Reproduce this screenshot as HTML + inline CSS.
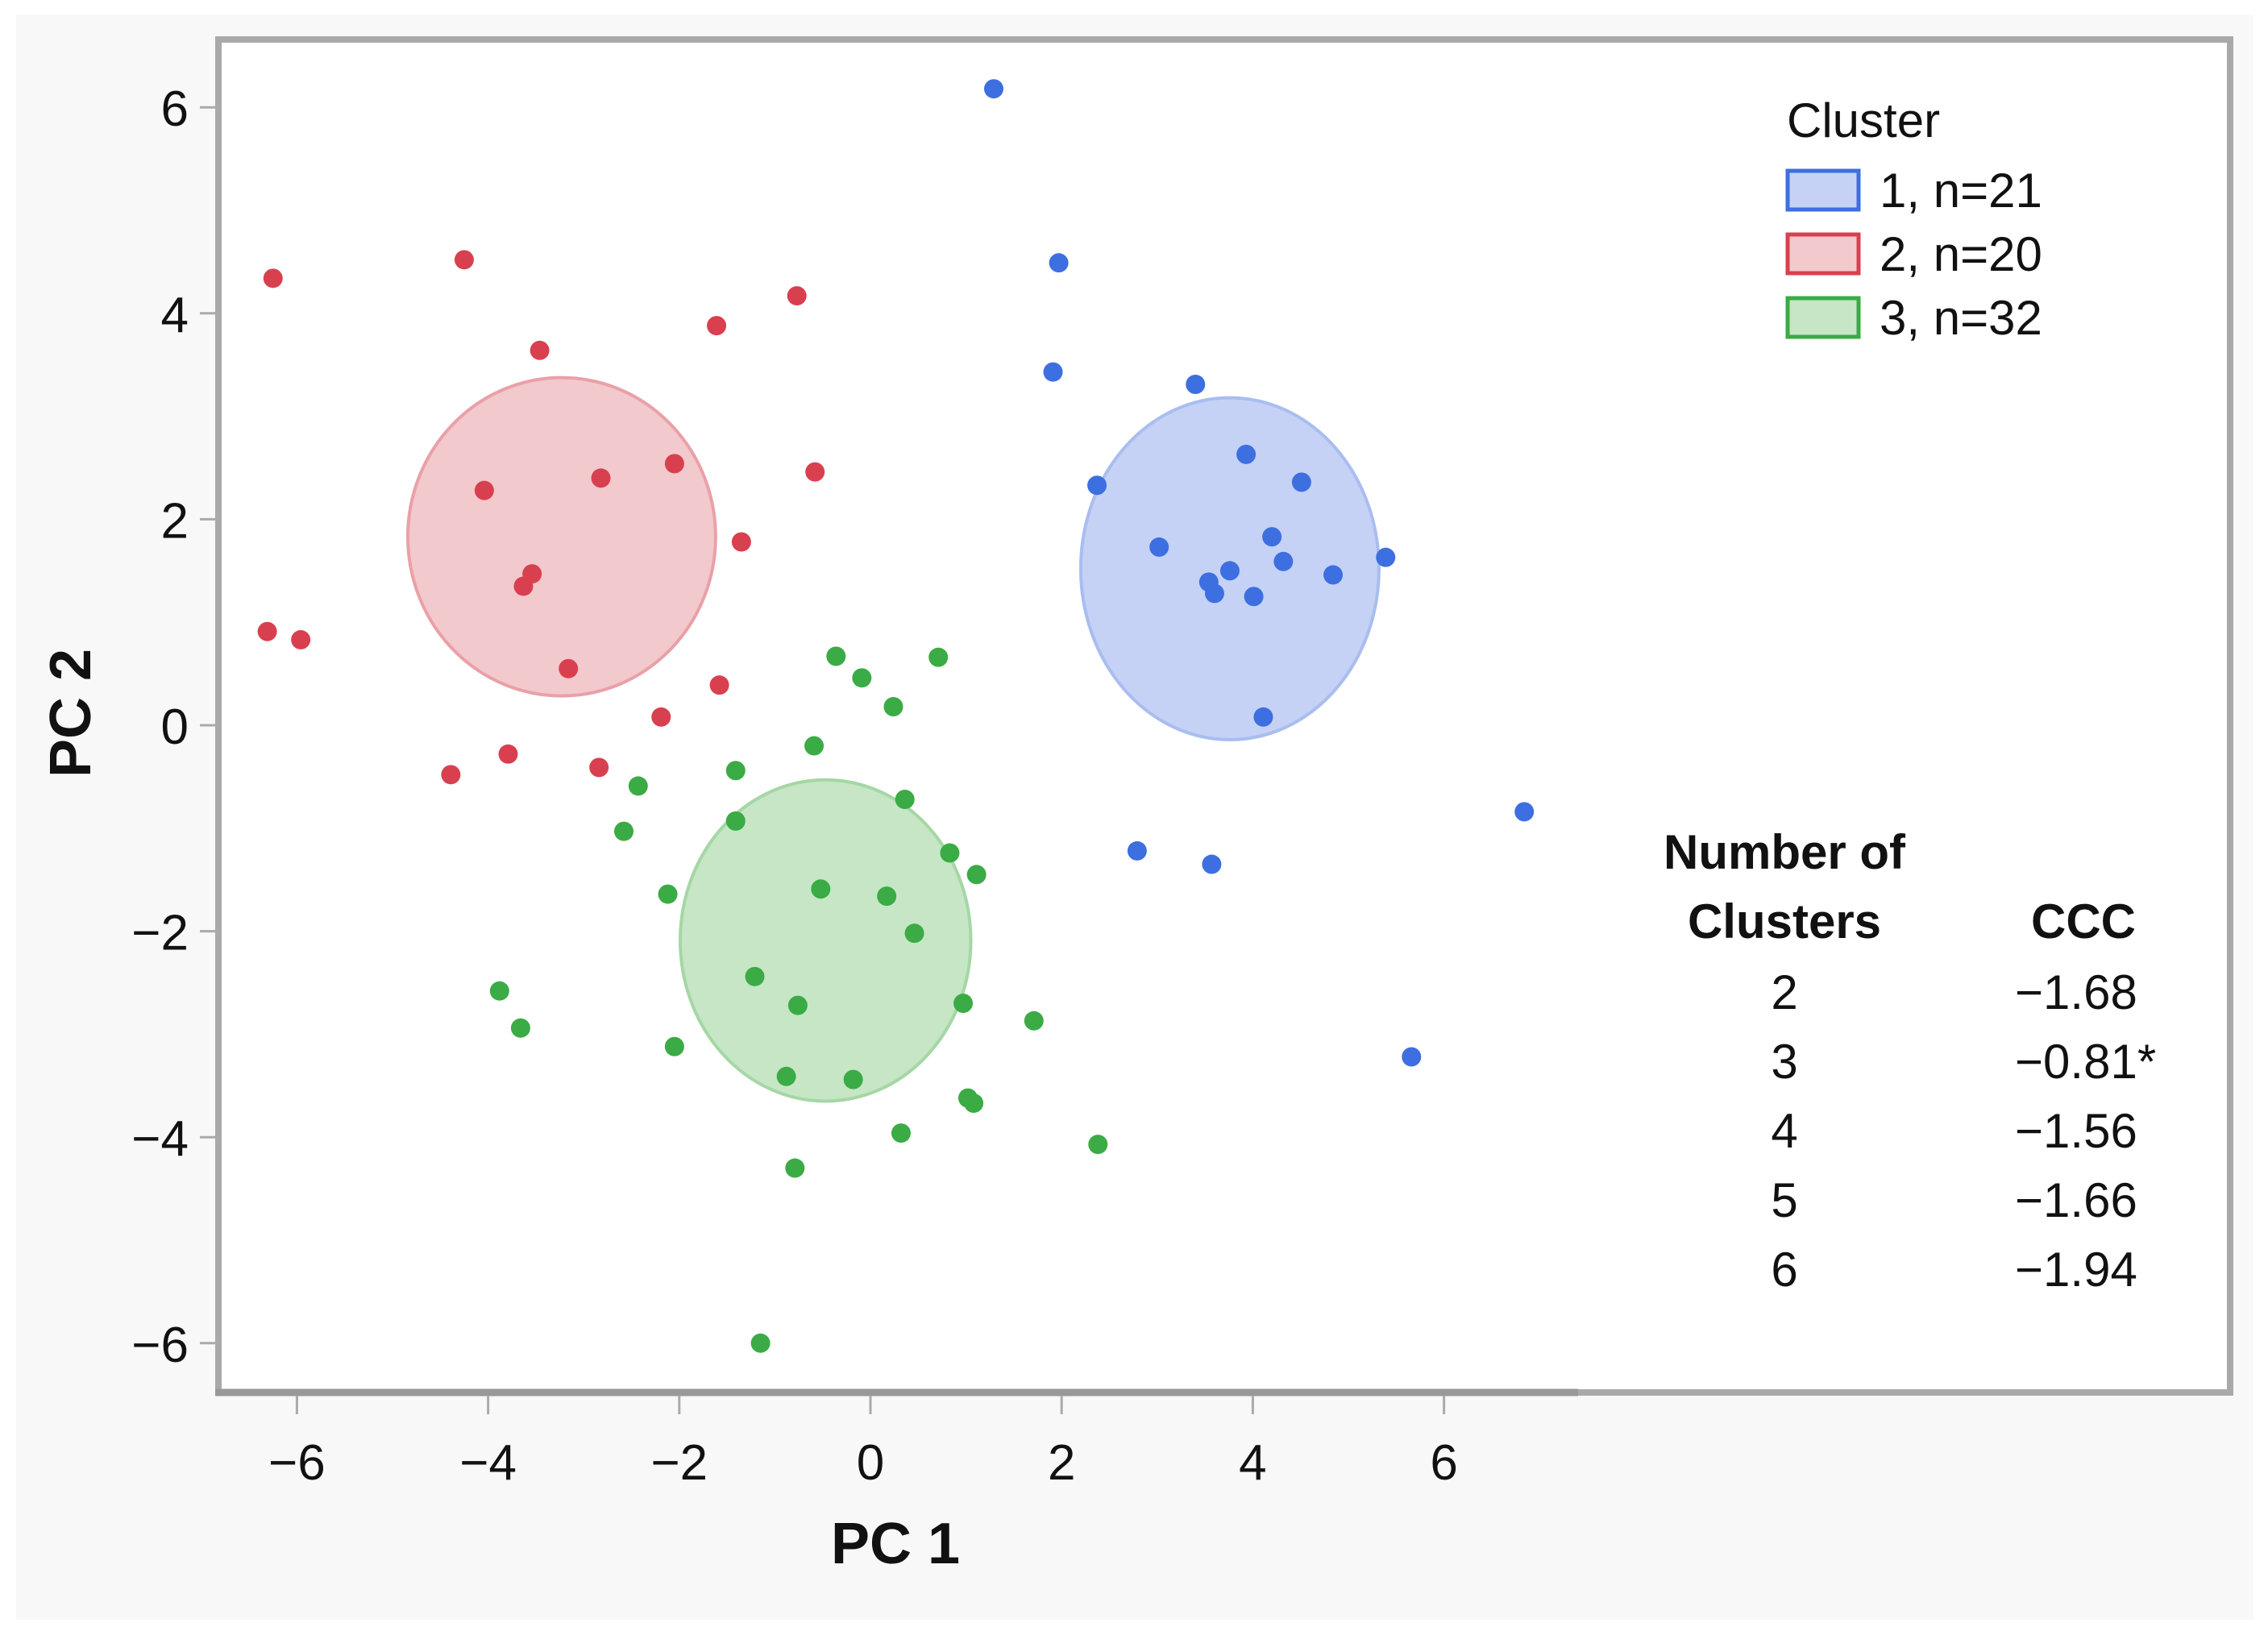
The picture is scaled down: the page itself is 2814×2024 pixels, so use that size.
<!DOCTYPE html>
<html><head><meta charset="utf-8"><style>
html,body{margin:0;padding:0;background:#fff;}
svg{display:block;}
text{font-family:"Liberation Sans",sans-serif;fill:#111;}
</style></head><body>
<svg id="chart" width="2814" height="2024" viewBox="0 0 2814 2024">
<rect x="20" y="18" width="2776" height="1992" fill="#f8f8f8"/>
<rect x="271" y="49" width="2496" height="1679" fill="#fff" stroke="#a9a9a9" stroke-width="8"/>
<line x1="267" y1="1728" x2="1958" y2="1728" stroke="#999" stroke-width="9"/>
<g id="ellipses"></g>
<g id="points"></g>
<g id="axes"></g>
<text x="1111" y="1940" font-size="72" font-weight="bold" text-anchor="middle">PC 1</text>
<text x="0" y="0" font-size="72" font-weight="bold" text-anchor="middle" transform="translate(112,885) rotate(-90)">PC 2</text>
<g>
<text x="2217" y="170" font-size="60">Cluster</text>
<g><rect x="2218" y="212" width="88" height="48" fill="#c5d2f5" stroke="#3d6fe0" stroke-width="5"/><text x="2332" y="257" font-size="60">1, n=21</text></g>
<g><rect x="2218" y="291" width="88" height="48" fill="#f2c9cc" stroke="#d9404f" stroke-width="5"/><text x="2332" y="336" font-size="60">2, n=20</text></g>
<g><rect x="2218" y="370" width="88" height="48" fill="#c6e6c6" stroke="#3bab45" stroke-width="5"/><text x="2332" y="415" font-size="60">3, n=32</text></g>
</g>
<g>
<text x="2214" y="1078" font-size="60" font-weight="bold" text-anchor="middle">Number of</text>
<text x="2214" y="1164" font-size="60" font-weight="bold" text-anchor="middle">Clusters</text>
<text x="2585" y="1164" font-size="60" font-weight="bold" text-anchor="middle">CCC</text>
<g id="tablerows"></g>
</g>
</svg>
<script>
const blueX=[1.29,1.97,1.91,3.40,2.37,3.93,4.51,3.02,4.20,3.76,3.54,3.60,4.01,4.32,4.84,5.39,4.11,6.84,2.79,3.57,5.66];
const blueY=[6.18,4.49,3.43,3.31,2.33,2.63,2.36,1.73,1.83,1.50,1.39,1.28,1.25,1.59,1.46,1.63,0.08,-0.84,-1.22,-1.35,-3.22];
const redX=[-6.25,-4.25,-0.77,-1.61,-3.46,-4.04,-2.82,-2.05,-0.58,-1.35,-3.54,-3.63,-6.31,-5.96,-3.16,-1.58,-2.19,-4.39,-3.79,-2.84];
const redY=[4.34,4.52,4.17,3.88,3.64,2.28,2.40,2.54,2.46,1.78,1.47,1.35,0.91,0.83,0.55,0.39,0.08,-0.48,-0.28,-0.41];
const greenX=[-0.36,-0.09,0.71,0.24,-0.59,-1.41,-2.43,-2.58,-1.41,0.36,0.83,1.11,-2.12,-0.52,0.17,0.46,-1.21,-0.76,0.97,1.71,-3.88,-3.66,-2.05,-0.88,-0.18,1.02,1.08,0.32,2.38,-0.79,-1.15];
const greenY=[0.67,0.46,0.66,0.18,-0.20,-0.44,-0.59,-1.03,-0.93,-0.72,-1.24,-1.45,-1.64,-1.59,-1.66,-2.02,-2.44,-2.72,-2.70,-2.87,-2.58,-2.94,-3.12,-3.41,-3.44,-3.62,-3.67,-3.96,-4.07,-4.30,-6.00];
const ellipseCX=[3.76,-3.23,-0.47];
const ellipseCY=[1.52,1.83,-2.09];
const ellipseRX=[1.56,1.61,1.52];
const ellipseRY=[1.66,1.545,1.56];
const xTicks=[-6,-4,-2,0,2,4,6];
const yTicks=[-6,-4,-2,0,2,4,6];
const tableK=["2","3","4","5","6"];
const tableCCC=["\u22121.68","\u22120.81*","\u22121.56","\u22121.66","\u22121.94"];

const NS="http://www.w3.org/2000/svg";
function sx(v){return 1080+118.6*v;}
function sy(v){return 900-127.8*v;}
function mk(tag,attrs,parent){const e=document.createElementNS(NS,tag);for(const k in attrs)e.setAttribute(k,attrs[k]);parent.appendChild(e);return e;}
const eg=document.getElementById('ellipses');
const fills=['#c5d2f5','#f2c9cc','#c6e6c6'];
const strokes=['#a9bdf0','#eaa0a8','#a5d7a5'];
const enames=['ellipse-cluster-1','ellipse-cluster-2','ellipse-cluster-3'];
for(let i=0;i<3;i++){
  const e=mk('ellipse',{cx:sx(ellipseCX[i]),cy:sy(ellipseCY[i]),rx:ellipseRX[i]*118.6,ry:ellipseRY[i]*127.8,fill:fills[i],stroke:strokes[i],'stroke-width':4},eg);
  
  
}
const pg=document.getElementById('points');
const series=[[blueX,blueY,'#3d6fe0','point-cluster-1'],[redX,redY,'#d9404f','point-cluster-2'],[greenX,greenY,'#3bab45','point-cluster-3']];
series.forEach(s=>{
  for(let i=0;i<s[0].length;i++){
    const c=mk('circle',{cx:sx(s[0][i]),cy:sy(s[1][i]),r:12,fill:s[2]},pg);
    
    
  }
});
const ag=document.getElementById('axes');
xTicks.forEach(t=>{
  const l=mk('line',{x1:sx(t),x2:sx(t),y1:1732,y2:1755,stroke:'#aaa','stroke-width':3},ag);
  
  
  const tx=mk('text',{x:sx(t),y:1836,'font-size':62,'text-anchor':'middle'},ag);
  tx.textContent=(t<0?'\u2212':'')+Math.abs(t);
  
  
});
yTicks.forEach(t=>{
  const l=mk('line',{x1:248,x2:267,y1:sy(t),y2:sy(t),stroke:'#aaa','stroke-width':3},ag);
  
  
  const tx=mk('text',{x:234,y:sy(t)+23,'font-size':62,'text-anchor':'end'},ag);
  tx.textContent=(t<0?'\u2212':'')+Math.abs(t);
  
  
});
const tg=document.getElementById('tablerows');
for(let i=0;i<tableK.length;i++){
  const y=1252+86*i;
  const a=mk('text',{x:2214,y:y,'font-size':60,'text-anchor':'middle'},tg);
  a.textContent=tableK[i];
  
  
  const b=mk('text',{x:2500,y:y,'font-size':60},tg);
  b.textContent=tableCCC[i];
  
  
}
</script>
</body></html>
